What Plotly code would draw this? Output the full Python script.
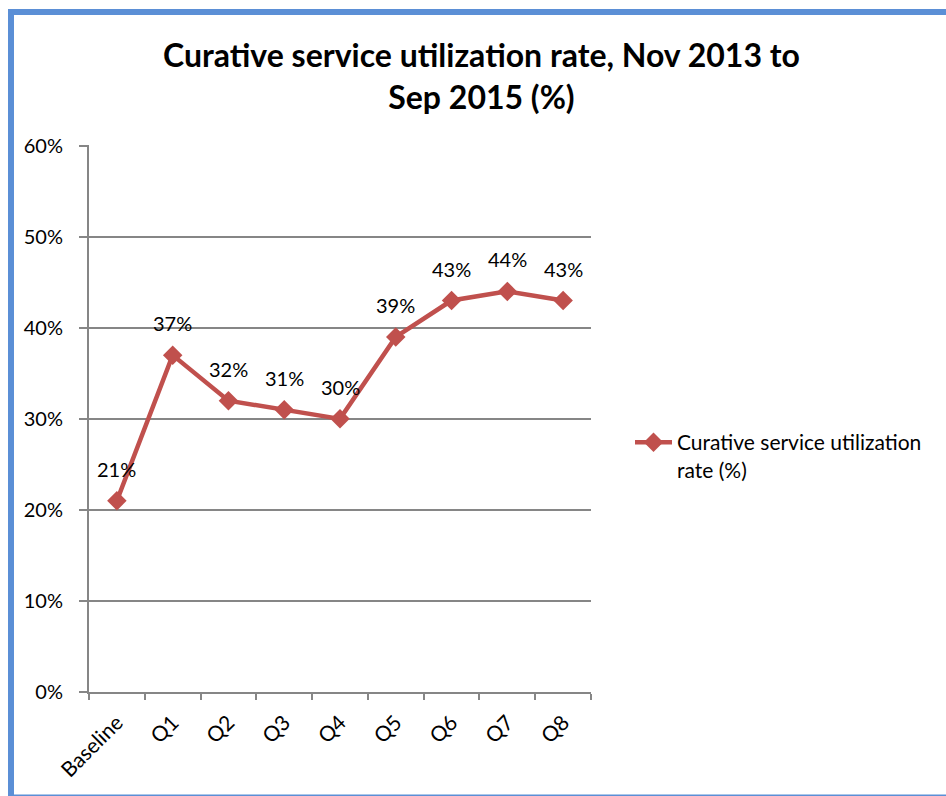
import plotly.graph_objects as go

categories = ["Baseline", "Q1", "Q2", "Q3", "Q4", "Q5", "Q6", "Q7", "Q8"]
values = [0.21, 0.37, 0.32, 0.31, 0.30, 0.39, 0.43, 0.44, 0.43]
value_labels = ["21%", "37%", "32%", "31%", "30%", "39%", "43%", "44%", "43%"]
series_name = "Curative service utilization<br>rate (%)"

W, H = 946, 796
L, R, T, B = 89, 591, 145, 692
pw, ph = R - L, B - T

def px(x):
    return (x - L) / pw

def py(y):
    return (B - y) / ph

FONT = "Lato, 'Open Sans', sans-serif"
RED = "#C0504D"
GRID = "#868686"

fig = go.Figure()
fig.add_trace(go.Scatter(
    x=categories, y=values, name=series_name,
    mode="lines+markers",
    line=dict(color=RED, width=4.5),
    marker=dict(symbol="diamond", size=15, color=RED),
))

for c, v, t in zip(categories, values, value_labels):
    fig.add_annotation(x=c, y=v, text=t, showarrow=False, yshift=32,
                       font=dict(family=FONT, size=20, color="#000000"))

fig.add_annotation(xref="paper", yref="paper", x=px(481), y=py(76),
                   text="<b>Curative service utilization rate, Nov 2013 to<br>Sep 2015 (%)</b>",
                   showarrow=False, xanchor="center", yanchor="middle",
                   font=dict(family=FONT, size=32, color="#000000"))

fig.add_shape(type="rect", xref="paper", yref="paper",
              x0=px(11), x1=px(955), y0=py(797.5), y1=py(12),
              line=dict(color="#5B8FD6", width=6), fillcolor="rgba(0,0,0,0)", layer="above")

fig.update_layout(
    width=W, height=H,
    margin=dict(l=L, r=W - R, t=T, b=H - B, pad=0),
    paper_bgcolor="white", plot_bgcolor="white",
    font=dict(family=FONT, size=20, color="#000000"),
    showlegend=True,
    legend=dict(x=px(630), y=py(422), xanchor="left", yanchor="top",
                valign="top", font=dict(family=FONT, size=21, color="#000000"),
                bgcolor="rgba(0,0,0,0)", itemwidth=37, tracegroupgap=0),
    xaxis=dict(type="category", range=[-0.5, 8.5], tickson="boundaries",
               ticks="outside", ticklen=6, tickcolor=GRID, tickwidth=1.5,
               showline=True, linecolor=GRID, linewidth=2,
               showgrid=False, tickangle=-45, ticklabelstandoff=8,
               tickfont=dict(family=FONT, size=21)),
    yaxis=dict(range=[0, 0.6008], tickvals=[0, 0.1, 0.2, 0.3, 0.4, 0.5, 0.6],
               tickformat=".0%",
               ticks="outside", ticklen=8, tickcolor=GRID, tickwidth=1.5,
               showline=True, linecolor=GRID, linewidth=2,
               showgrid=True, gridcolor=GRID, gridwidth=1.5,
               zeroline=False, ticklabelstandoff=12,
               tickfont=dict(family=FONT, size=20)),
)

fig.write_html("out.html", config={"displayModeBar": False},
               post_script="document.body.style.margin='0px';")
